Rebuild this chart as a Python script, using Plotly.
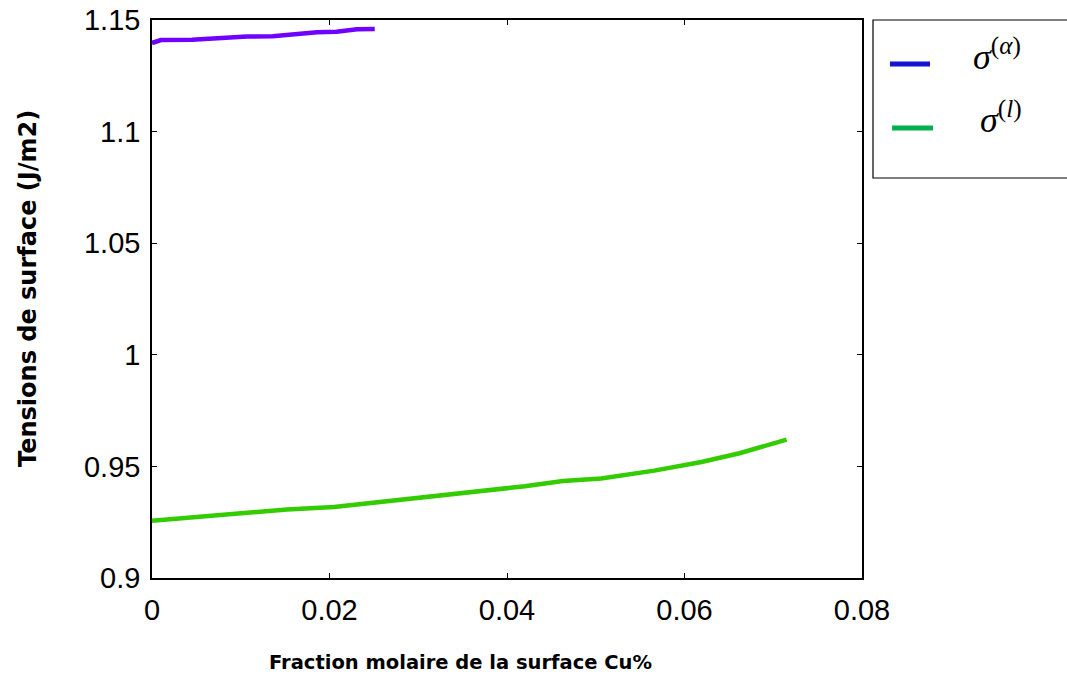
import plotly.graph_objects as go

# Data
x_alpha = [0.0, 0.0010, 0.0045, 0.0080, 0.0107, 0.0136, 0.0160, 0.0186, 0.0208, 0.0231, 0.0251]
y_alpha = [1.1397, 1.1410, 1.1412, 1.1420, 1.1426, 1.1427, 1.1435, 1.1445, 1.1447, 1.1458, 1.1460]

x_liq = [0.0, 0.0082, 0.0152, 0.0205, 0.0275, 0.0351, 0.0420, 0.0463, 0.0506, 0.0566, 0.0619, 0.0662, 0.0700, 0.0715]
y_liq = [0.9256, 0.9284, 0.9307, 0.9318, 0.9348, 0.9380, 0.9411, 0.9435, 0.9446, 0.9481, 0.9520, 0.9559, 0.9600, 0.9620]

x_ticks = [0, 0.02, 0.04, 0.06, 0.08]
x_tick_labels = ["0", "0.02", "0.04", "0.06", "0.08"]
y_ticks = [0.9, 0.95, 1.0, 1.05, 1.1, 1.15]
y_tick_labels = ["0.9", "0.95", "1", "1.05", "1.1", "1.15"]

legend_labels = ["<i>σ</i><sup>(<i>α</i>)</sup>", "<i>σ</i><sup>(<i>l</i>)</sup>"]
legend_colors = ["#1414d2", "#00b04e"]

x_title = "Fraction molaire de la surface Cu%"
y_title = "Tensions de surface (J/m2)"

fig = go.Figure()
fig.add_trace(go.Scatter(x=x_alpha, y=y_alpha, mode="lines",
                         line=dict(color="#7000ff", width=4.5), showlegend=False))
fig.add_trace(go.Scatter(x=x_liq, y=y_liq, mode="lines",
                         line=dict(color="#33cc00", width=4.5), showlegend=False))

W, H = 1067, 679
L, R, T, B = 152, 862, 20, 578
pw, ph = R - L, B - T

def px(xp):
    return (xp - L) / pw

def py(yp):
    return (B - yp) / ph

axis_common = dict(showline=True, linecolor="black", linewidth=1.5, mirror="ticks",
                   ticks="inside", ticklen=5, tickcolor="black", showgrid=False,
                   zeroline=False, automargin=False,
                   tickfont=dict(family="Liberation Sans, Arial, sans-serif", size=29, color="black"))

fig.update_xaxes(range=[0, 0.08], tickvals=x_ticks, ticktext=x_tick_labels,
                 ticklabelstandoff=5, **axis_common)
fig.update_yaxes(range=[0.9, 1.15], tickvals=y_ticks, ticktext=y_tick_labels,
                 ticklabelstandoff=4, **axis_common)

shapes = [
    dict(type="rect", xref="paper", yref="paper", x0=px(873), x1=px(1080), y0=py(178), y1=py(20),
         line=dict(color="black", width=1.2), fillcolor="white"),
]
lines_y = [64, 128]
annotations = []
for col, yy, xs in zip(legend_colors, lines_y, [(890, 930), (892, 933)]):
    shapes.append(dict(type="line", xref="paper", yref="paper", x0=px(xs[0]), x1=px(xs[1]),
                       y0=py(yy), y1=py(yy), line=dict(color=col, width=5)))
for lab, yy, xx in zip(legend_labels, [55, 117], [997, 1001]):
    annotations.append(dict(xref="paper", yref="paper", x=px(xx), y=py(yy), text=lab,
                            showarrow=False, xanchor="center", yanchor="middle",
                            font=dict(family="Liberation Serif, Times New Roman, serif", size=36, color="black")))

annotations.append(dict(xref="paper", yref="paper", x=px(460), y=py(662), text="<b>" + x_title + "</b>",
                        showarrow=False, xanchor="center", yanchor="middle",
                        font=dict(family="DejaVu Sans, sans-serif", size=19.5, color="black")))
annotations.append(dict(xref="paper", yref="paper", x=px(28), y=py(289), text="<b>" + y_title + "</b>",
                        showarrow=False, xanchor="center", yanchor="middle", textangle=-90,
                        font=dict(family="DejaVu Sans, sans-serif", size=24, color="black")))

fig.update_layout(width=W, height=H, margin=dict(l=L, r=W - R, t=T, b=H - B),
                  plot_bgcolor="white", paper_bgcolor="white",
                  shapes=shapes, annotations=annotations, showlegend=False)

fig.write_html("out.html")
